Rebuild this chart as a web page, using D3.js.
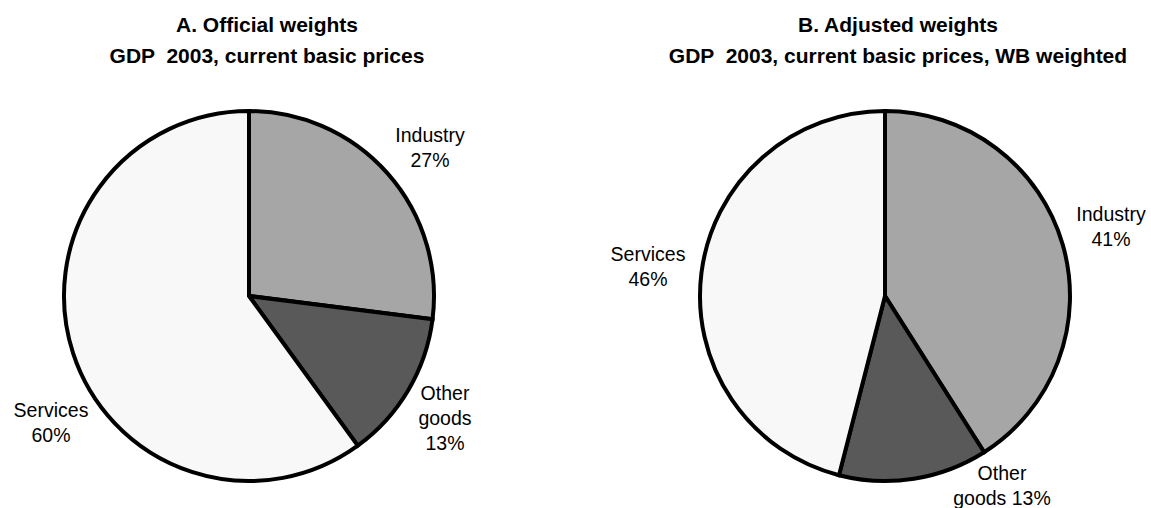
<!DOCTYPE html>
<html>
<head>
<meta charset="utf-8">
<script src="https://cdn.jsdelivr.net/npm/d3@7"></script>
<style>
  html, body { margin: 0; padding: 0; background: #ffffff; }
  svg { display: block; }
  text { font-family: "Liberation Sans", Arial, sans-serif; fill: #000; }
</style>
</head>
<body>
<svg id="chart" width="1151" height="508"></svg>
<script>
// ---- Data ----
const categories = ["Industry", "Other goods", "Services"];
const officialShares = [27, 13, 60];
const adjustedShares = [41, 13, 46];
const titlesA = ["A. Official weights", "GDP  2003, current basic prices"];
const titlesB = ["B. Adjusted weights", "GDP  2003, current basic prices, WB weighted"];
const labelsA = [["Industry", "27%"], ["Other", "goods", "13%"], ["Services", "60%"]];
const labelsB = [["Industry", "41%"], ["Other", "goods 13%"], ["Services", "46%"]];

// ---- Layout ----
const svg = d3.select("#chart");
const color = d3.scaleOrdinal().domain(categories).range(["#a6a6a6", "#595959", "#f8f8f8"]);
const radius = 185;

const panels = [
  { cx: 249, cy: 296, tx: 267, values: officialShares, titles: titlesA, labels: labelsA,
    labelPos: [[430, 142], [445, 400], [51, 417]] },
  { cx: 885, cy: 296, tx: 898, values: adjustedShares, titles: titlesB, labels: labelsB,
    labelPos: [[1111, 221], [1002, 480], [648, 261]] }
];

const pie = d3.pie().sort(null).value(d => d.v);
const arc = d3.arc().innerRadius(0).outerRadius(radius);

panels.forEach(p => {
  const g = svg.append("g").attr("transform", `translate(${p.cx},${p.cy})`);
  const data = pie(categories.map((c, i) => ({ c, v: p.values[i] })));
  g.selectAll("path").data(data).join("path")
    .attr("d", arc)
    .attr("fill", d => color(d.data.c))
    .attr("stroke", "#000")
    .attr("stroke-width", 4)
    .attr("stroke-linejoin", "miter");

  // titles
  p.titles.forEach((t, i) => {
    svg.append("text")
      .attr("x", p.tx).attr("y", 32 + i * 31)
      .attr("text-anchor", "middle")
      .attr("font-size", 21).attr("font-weight", "bold")
      .style("white-space", "pre")
      .text(t);
  });

  // labels
  p.labels.forEach((lines, i) => {
    const [lx, ly] = p.labelPos[i];
    lines.forEach((ln, j) => {
      svg.append("text")
        .attr("x", lx).attr("y", ly + j * 25)
        .attr("text-anchor", "middle")
        .attr("font-size", 19.5)
        .text(ln);
    });
  });
});
</script>
</body>
</html>
